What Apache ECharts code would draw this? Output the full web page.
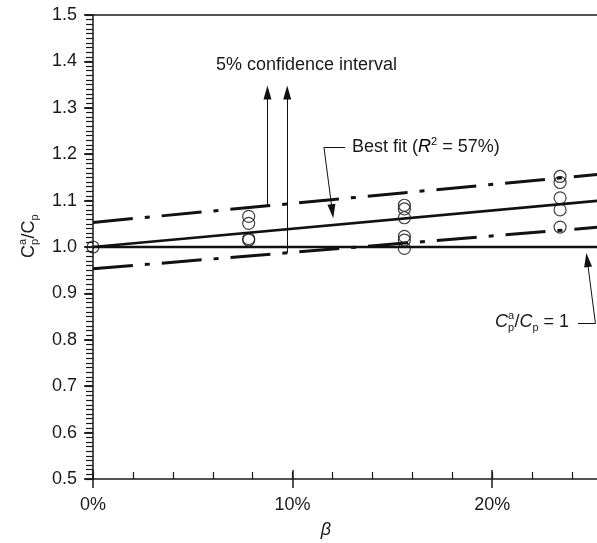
<!DOCTYPE html>
<html><head><meta charset="utf-8">
<script src="https://cdn.jsdelivr.net/npm/echarts@6/dist/echarts.min.js"></script>
<style>html,body{margin:0;padding:0;background:#fff}#c{width:597px;height:543px}</style>
</head><body><div id="c"></div>
<script>
// ---- data ----
const betaPoints  = [0, 7.8, 7.8, 7.8, 7.8, 15.6, 15.6, 15.6, 15.6, 15.6, 15.6, 23.4, 23.4, 23.4, 23.4, 23.4];
const ratioPoints = [1.0, 1.066, 1.051, 1.018, 1.015, 1.090, 1.082, 1.063, 1.023, 1.015, 0.997, 1.152, 1.139, 1.106, 1.080, 1.043];
const lineX      = [0, 25.4];
const bestFitY   = [1.000, 1.100];
const upperCIY   = [1.053, 1.157];
const lowerCIY   = [0.953, 1.043];
const unityY     = [1.0, 1.0];
const xTickLabels = ['0%', '10%', '20%'];
const yTickLabels = ['0.5','0.6','0.7','0.8','0.9','1.0','1.1','1.2','1.3','1.4','1.5'];
// annotation anchors (data coordinates)
const ciArrowX    = [8.74, 9.73];
const ciArrowTop  = 1.333;
const fitLeader   = [[12.63, 1.215], [11.57, 1.215], [11.99, 1.077]];
const unityLeader = [[24.3, 0.8354], [25.17, 0.8354], [24.76, 0.972]];

const FONT = '"Liberation Sans", Arial, sans-serif';
const INK = '#1a1a1a';
const chart = echarts.init(document.getElementById('c'));

function pair(xs, ys){ return xs.map((x,i)=>[x, ys[i]]); }
function seg(a, b, arrow){
  const to = {coord: b};
  if (arrow) { to.symbol = 'triangle'; to.symbolSize = [8, 14]; }
  return [{coord: a, symbol: 'none'}, to];
}
const xLab = {};
[0,10,20].forEach((v,i)=>xLab[v]=xTickLabels[i]);

const axisBase = {type:'value', min:0, max:25.4, splitLine:{show:false}, axisLabel:{show:false}, axisLine:{show:false}};
const yBase = {type:'value', min:0.5, max:1.5, splitLine:{show:false}, axisLabel:{show:false}, axisLine:{show:false}};

chart.setOption({
  animation: false,
  backgroundColor: '#fff',
  grid: {left: 93, top: 15, width: 507, height: 464, containLabel: false, outerBoundsMode: 'none'},
  xAxis: [
    Object.assign({}, axisBase, {position:'bottom', interval:2,
      axisLine:{show:true, onZero:false, lineStyle:{color:INK, width:1.5}},
      axisTick:{show:true, inside:true, length:7, lineStyle:{color:INK, width:1.2}},
      axisLabel:{show:true, margin:17, color:INK, fontSize:18, fontFamily:FONT,
        formatter: v => (xLab[Math.round(v)] !== undefined && Math.abs(v-Math.round(v))<1e-6) ? xLab[Math.round(v)] : ''}}),
    Object.assign({}, axisBase, {position:'bottom', interval:10,
      axisTick:{show:true, inside:false, length:9, lineStyle:{color:INK, width:1.5}}}),
    Object.assign({}, axisBase, {position:'bottom', interval:10,
      axisTick:{show:true, inside:true, length:9, lineStyle:{color:INK, width:1.5}}}),
    Object.assign({}, axisBase, {position:'top',
      axisLine:{show:true, onZero:false, lineStyle:{color:INK, width:1.5}}, axisTick:{show:false}})
  ],
  yAxis: [
    Object.assign({}, yBase, {interval:0.1,
      axisLine:{show:true, onZero:false, lineStyle:{color:INK, width:1.5}},
      axisTick:{show:true, inside:false, length:8, lineStyle:{color:INK, width:1.5}},
      axisLabel:{show:true, margin:16, color:INK, fontSize:18, fontFamily:FONT,
        formatter: v => yTickLabels[Math.round((v-0.5)*10)] || ''}}),
    Object.assign({}, yBase, {interval:0.01,
      axisTick:{show:true, inside:true, length:7, lineStyle:{color:INK, width:1.2}}}),
    Object.assign({}, yBase, {interval:0.1,
      axisTick:{show:true, inside:true, length:9, lineStyle:{color:INK, width:1.5}}})
  ],
  series: [
    {type:'line', data: pair(lineX, unityY), showSymbol:false, symbol:'none', z:3,
      lineStyle:{color:'#111', width:2.5}, silent:true,
      markLine:{silent:true, symbol:['none','none'], label:{show:false}, emphasis:{disabled:true},
        lineStyle:{color:'#111', width:1, type:'solid'},
        data:[
          seg([ciArrowX[0], upperCIY[0] + (upperCIY[1]-upperCIY[0])*ciArrowX[0]/lineX[1]], [ciArrowX[0], ciArrowTop], true),
          seg([ciArrowX[1], lowerCIY[0] + (lowerCIY[1]-lowerCIY[0])*ciArrowX[1]/lineX[1]], [ciArrowX[1], ciArrowTop], true),
          seg(fitLeader[0], fitLeader[1], false),
          seg(fitLeader[1], fitLeader[2], true),
          seg(unityLeader[0], unityLeader[1], false),
          seg(unityLeader[1], unityLeader[2], true)
        ]}},
    {type:'line', data: pair(lineX, bestFitY), showSymbol:false, symbol:'none', z:3,
      lineStyle:{color:'#111', width:2.5}, silent:true},
    {type:'line', data: pair(lineX, upperCIY), showSymbol:false, symbol:'none', z:3,
      lineStyle:{color:'#111', width:3, type:[40,12,5,12]}, silent:true},
    {type:'line', data: pair(lineX, lowerCIY), showSymbol:false, symbol:'none', z:3,
      lineStyle:{color:'#111', width:3, type:[40,12,5,12]}, silent:true},
    {type:'scatter', data: pair(betaPoints, ratioPoints), symbol:'circle', symbolSize:12, z:5,
      itemStyle:{color:'rgba(255,255,255,0)', borderColor:'#111', borderWidth:1.2}, silent:true}
  ],
  graphic: [
    {type:'text', x:216, y:65, style:{text:'5% confidence interval', font:'18px '+FONT, fill:INK, textAlign:'left', textVerticalAlign:'middle'}},
    {type:'text', x:352, y:147, style:{text:'{n|Best fit (}{i|R}{s|2}{n| = 57%)}', textAlign:'left', textVerticalAlign:'middle',
      rich:{n:{fontSize:18, fontFamily:FONT, fill:INK, color:INK, lineHeight:22},
            i:{fontSize:18, fontFamily:FONT, fontStyle:'italic', color:INK, lineHeight:22},
            s:{fontSize:11, fontFamily:FONT, color:INK, lineHeight:11, verticalAlign:'top'}}}},
    // C_p^a/C_p = 1
    {type:'group', x:495, y:322, children:[
      {type:'text', x:0, y:0, style:{text:'C', font:'italic 18px '+FONT, fill:INK, textVerticalAlign:'middle'}},
      {type:'text', x:13, y:-6, style:{text:'a', font:'11px '+FONT, fill:INK, textVerticalAlign:'middle'}},
      {type:'text', x:13, y:6, style:{text:'p', font:'11px '+FONT, fill:INK, textVerticalAlign:'middle'}},
      {type:'text', x:19.5, y:0, style:{text:'/', font:'18px '+FONT, fill:INK, textVerticalAlign:'middle'}},
      {type:'text', x:24.5, y:0, style:{text:'C', font:'italic 18px '+FONT, fill:INK, textVerticalAlign:'middle'}},
      {type:'text', x:37.5, y:6, style:{text:'p', font:'11px '+FONT, fill:INK, textVerticalAlign:'middle'}},
      {type:'text', x:43.5, y:0, style:{text:' = 1', font:'18px '+FONT, fill:INK, textVerticalAlign:'middle'}}
    ]},
    // y axis title
    {type:'group', x:29, y:232, rotation:Math.PI/2, children:[
      {type:'text', x:-26, y:0, style:{text:'C', font:'18px '+FONT, fill:INK, textVerticalAlign:'middle'}},
      {type:'text', x:-13, y:-6.5, style:{text:'a', font:'11px '+FONT, fill:INK, textVerticalAlign:'middle'}},
      {type:'text', x:-13, y:6, style:{text:'p', font:'11px '+FONT, fill:INK, textVerticalAlign:'middle'}},
      {type:'text', x:-6.5, y:0, style:{text:'/', font:'18px '+FONT, fill:INK, textVerticalAlign:'middle'}},
      {type:'text', x:-1.5, y:0, style:{text:'C', font:'18px '+FONT, fill:INK, textVerticalAlign:'middle'}},
      {type:'text', x:11.5, y:6, style:{text:'p', font:'11px '+FONT, fill:INK, textVerticalAlign:'middle'}}
    ]},
    {type:'text', x:326, y:530, style:{text:'β', font:'italic 18px '+FONT, fill:INK, textAlign:'center', textVerticalAlign:'middle'}}
  ]
});
</script>
</body></html>
